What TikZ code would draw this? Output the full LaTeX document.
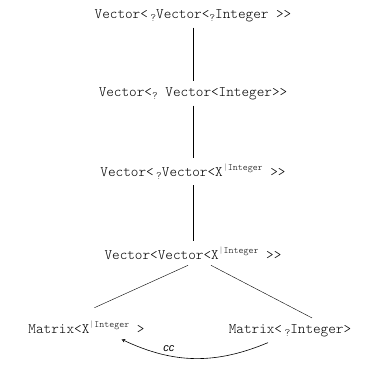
\documentclass[tikz,border=0pt]{standalone}
\usepackage{fontspec}
\setmonofont{lmmonolt10-regular.otf}
\setsansfont{Liberation Sans}
\usetikzlibrary{arrows}

\newcommand{\wild}{\raisebox{-3pt}{\fontsize{11}{11}\selectfont ?}}
\newcommand{\bound}[1]{\raisebox{5.5pt}{\fontsize{9.5}{10}\selectfont\textcolor{gray}{|}#1}}

\begin{document}
\begin{tikzpicture}[x=1pt, y=-1pt, >=stealth,
    type/.style={font=\ttfamily\fontsize{14.5}{17}\selectfont, inner sep=6pt, anchor=base}]
        \useasboundingbox (0,0) rectangle (387,367);

        \node [type] (vvw) at (193,18) {Vector<\,\wild Vector<\wild Integer >>};
        \node [type] (vwv) at (193,96) {Vector<\wild\ Vector<Integer>>};
        \node [type] (vwx) at (193,176) {Vector<\,\wild Vector<X\bound{Integer} >>};
        \node [type] (vvx) at (193,259) {Vector<Vector<X\bound{Integer} >>};
        \node [type] (mx) at (86.5,333) {Matrix<X\bound{Integer} >};
        \node [type] (mw) at (290,333) {Matrix<\,\wild Integer>};

        \draw (vvw) -- (vwv);
        \draw (vwv) -- (vwx);
        \draw (vwx) -- (vvx);
        \draw ([xshift=-5pt]vvx.south) -- ([xshift=8pt,yshift=7pt]mx.north);
        \draw ([xshift=18pt]vvx.south) -- ([xshift=22pt]mw.north);

        \draw [->, semithick] ([xshift=-22pt]mw.south) to [bend left=24]
            node [pos=0.68, above, font=\sffamily\itshape\fontsize{11}{13}\selectfont] {cc} ([xshift=35pt]mx.south);
    \end{tikzpicture}
\end{document}
